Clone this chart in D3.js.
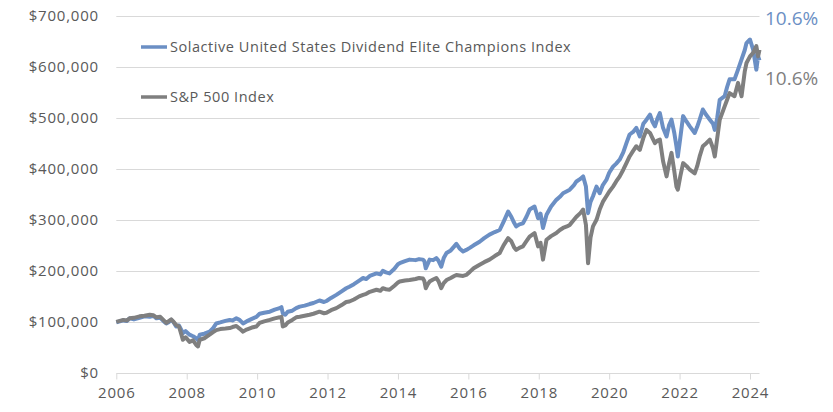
<!DOCTYPE html>
<html>
<head>
<meta charset="utf-8">
<script src="https://cdn.jsdelivr.net/npm/d3@7"></script>
<style>
  html, body { margin: 0; padding: 0; background: #fff; }
  svg { display: block; font-family: "Open Sans", "Lato", sans-serif; }
</style>
</head>
<body>
<svg id="chart" width="833" height="412"></svg>
<script>
// Values in thousands of dollars, positioned by year
const seriesNames = ["Solactive United States Dividend Elite Champions Index", "S&P 500 Index"];
const endLabels = ["10.6%", "10.6%"];
const yTicks = [0, 100000, 200000, 300000, 400000, 500000, 600000, 700000];
const xTicks = [2006, 2008, 2010, 2012, 2014, 2016, 2018, 2020, 2022, 2024];

const years = [2006.00,2006.10,2006.20,2006.30,2006.38,2006.50,2006.66,2006.80,2006.95,2007.05,2007.14,2007.25,2007.35,2007.42,2007.50,2007.56,2007.63,2007.70,2007.78,2007.85,2007.89,2007.97,2008.08,2008.18,2008.27,2008.32,2008.37,2008.50,2008.65,2008.75,2008.84,2008.95,2009.10,2009.22,2009.30,2009.41,2009.50,2009.60,2009.70,2009.85,2009.98,2010.07,2010.20,2010.36,2010.50,2010.64,2010.69,2010.73,2010.80,2010.87,2011.00,2011.11,2011.21,2011.35,2011.49,2011.60,2011.77,2011.90,2011.97,2012.10,2012.25,2012.40,2012.53,2012.62,2012.75,2012.90,2013.01,2013.10,2013.20,2013.39,2013.50,2013.57,2013.66,2013.76,2013.90,2014.00,2014.05,2014.20,2014.33,2014.50,2014.60,2014.71,2014.75,2014.79,2014.85,2014.90,2015.00,2015.09,2015.15,2015.23,2015.30,2015.38,2015.50,2015.60,2015.66,2015.75,2015.85,2015.94,2016.04,2016.15,2016.32,2016.45,2016.60,2016.75,2016.89,2017.00,2017.13,2017.22,2017.30,2017.36,2017.45,2017.55,2017.65,2017.74,2017.88,2017.98,2018.05,2018.12,2018.22,2018.35,2018.50,2018.60,2018.69,2018.80,2018.88,2019.00,2019.07,2019.18,2019.26,2019.34,2019.40,2019.47,2019.54,2019.64,2019.73,2019.82,2019.92,2020.00,2020.11,2020.20,2020.30,2020.40,2020.49,2020.58,2020.68,2020.77,2020.87,2020.97,2021.06,2021.16,2021.23,2021.30,2021.37,2021.44,2021.53,2021.63,2021.70,2021.77,2021.85,2021.91,2021.95,2022.02,2022.10,2022.20,2022.29,2022.43,2022.50,2022.57,2022.66,2022.76,2022.86,2022.95,2023.00,2023.07,2023.14,2023.28,2023.35,2023.42,2023.56,2023.66,2023.76,2023.85,2023.90,2024.00,2024.09,2024.18,2024.23,2024.27];

const solactive = [99,101,103,102,107,105,108,111,110,112,107,108,101,97,100,104,99,91,93,84,78,82,75,72,68,64,75,77,81,88,97,99,102,104,103,107,104,97,101,106,110,116,118,120,124,127,129,117,114,120,122,127,130,132,135,137,142,139,141,147,153,160,166,169,174,181,186,184,190,195,193,200,197,195,204,213,215,219,222,221,223,222,219,205,214,222,221,225,220,208,225,235,240,248,253,244,238,241,245,250,257,264,271,276,280,296,316,306,294,287,291,293,306,320,326,303,312,284,310,326,339,345,352,356,359,368,375,380,385,365,313,335,346,365,352,368,378,392,404,410,418,432,450,467,472,480,463,488,496,506,492,483,498,509,480,463,485,496,470,444,424,460,503,492,483,470,482,496,516,505,496,488,476,500,535,542,560,575,575,594,614,632,646,653,633,594,620,612];

const sp500 = [100,102,104,103,107,108,111,112,114,113,109,110,103,98,102,105,100,94,91,75,65,70,61,64,55,52,65,68,75,80,84,86,87,88,90,92,87,81,85,89,91,98,101,104,107,109,110,91,93,99,104,109,110,112,114,116,120,117,118,123,127,133,139,140,144,150,153,155,159,163,161,166,164,163,171,177,179,181,182,184,186,185,180,166,174,179,183,186,180,166,176,182,186,190,192,191,190,192,198,205,212,217,222,229,235,250,264,258,246,241,245,248,258,267,274,248,255,222,261,268,274,280,284,287,290,300,306,313,320,290,215,265,287,300,320,335,346,355,365,375,385,398,411,424,435,444,437,460,476,470,460,450,455,457,415,385,410,431,395,365,359,385,411,405,398,391,405,424,444,450,457,440,424,460,496,522,535,548,542,568,542,590,607,620,627,640,620,633];

const colors = ["#6b8fc4", "#7f7f7f"];
const textColor = "#595959";
const gridColor = "#d9d9d9";

const svg = d3.select("#chart");
const margin = {left: 116.3, right: 833 - 759.5, top: 15.5, bottom: 412 - 373};
const x = d3.scaleLinear().domain([2006, years[years.length - 1]]).range([margin.left, 833 - margin.right]);
const y = d3.scaleLinear().domain([0, 700000]).range([412 - margin.bottom, margin.top]);

// gridlines
svg.append("g").selectAll("line").data(yTicks).join("line")
  .attr("x1", x.range()[0]).attr("x2", x.range()[1])
  .attr("y1", d => Math.round(y(d)) + 0.5).attr("y2", d => Math.round(y(d)) + 0.5)
  .attr("stroke", gridColor).attr("stroke-width", 1);

// y labels
const fmt = d3.format("$,");
svg.append("g").selectAll("text").data(yTicks).join("text")
  .attr("x", 99).attr("y", d => y(d)).attr("dy", "0.35em")
  .attr("text-anchor", "end").attr("fill", textColor).attr("font-size", 15)
  .attr("letter-spacing", 0.8)
  .text(d => fmt(d));

// x axis
const xAxis = d3.axisBottom(x).tickValues(xTicks).tickFormat(d3.format("d")).tickSize(6).tickPadding(8);
const gx = svg.append("g").attr("transform", `translate(0,${Math.round(y(0)) + 0.5})`).call(xAxis);
gx.select(".domain").remove();
gx.selectAll(".tick line").attr("stroke", gridColor);
gx.selectAll(".tick text").attr("fill", textColor).attr("font-size", 15)
  .attr("letter-spacing", 0.8)
  .attr("font-family", "'Open Sans', Lato, sans-serif");

// lines
const line = d3.line().x((d, i) => x(years[i])).y(d => y(d * 1000));
[solactive, sp500].forEach((s, k) => {
  svg.append("path").datum(s).attr("d", line)
    .attr("fill", "none").attr("stroke", colors[k]).attr("stroke-width", 4)
    .attr("stroke-linejoin", "round");
});

// legend
const legendY = [47, 97];
seriesNames.forEach((n, k) => {
  svg.append("line").attr("x1", 141).attr("x2", 167).attr("y1", legendY[k]).attr("y2", legendY[k])
    .attr("stroke", colors[k]).attr("stroke-width", 3.5);
  svg.append("text").attr("x", 170).attr("y", legendY[k]).attr("dy", "0.35em")
    .attr("fill", textColor).attr("font-size", 14.5).attr("letter-spacing", 0.55).text(n);
});

// end labels
const endY = [18, 78];
endLabels.forEach((t, k) => {
  svg.append("text").attr("x", 765).attr("y", endY[k]).attr("dy", "0.35em")
    .attr("fill", colors[k]).attr("font-size", 19).text(t);
});
</script>
</body>
</html>
